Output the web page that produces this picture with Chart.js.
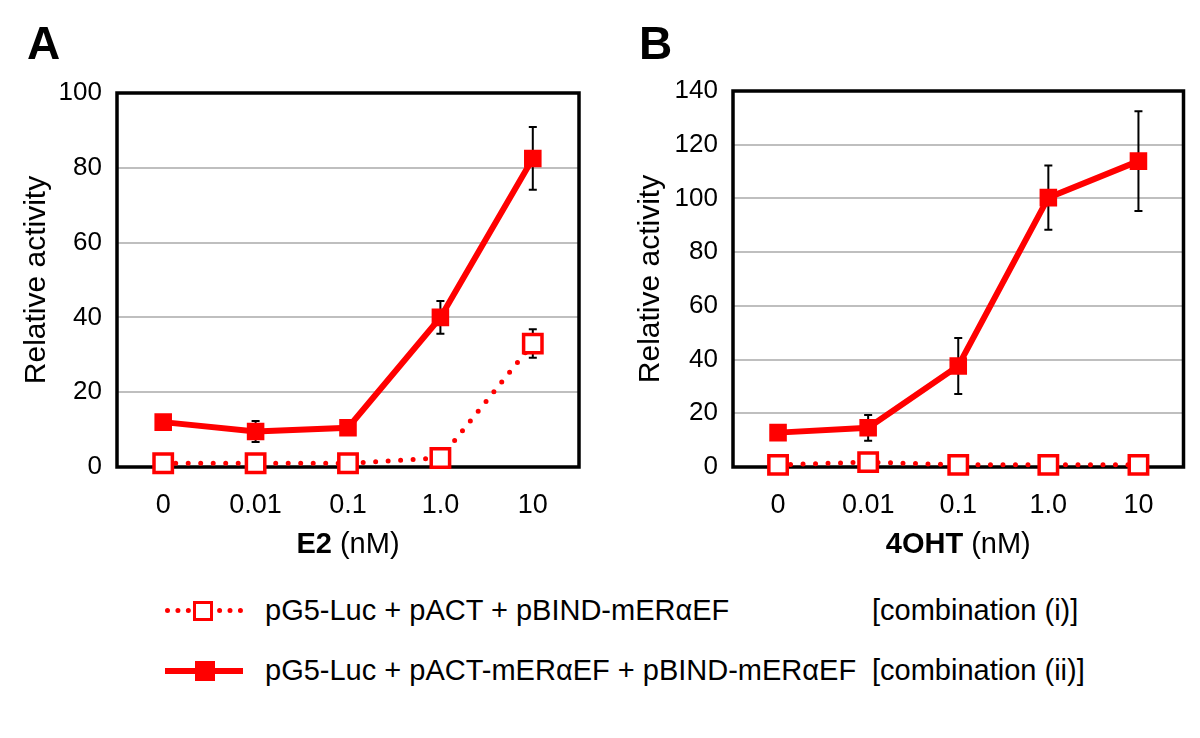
<!DOCTYPE html>
<html>
<head>
<meta charset="utf-8">
<script src="https://cdn.jsdelivr.net/npm/chart.js@4.4.1/dist/chart.umd.min.js"></script>
<style>
  body { margin: 0; background: #fff; }
  #wrap { position: relative; width: 1200px; height: 738px; background: #fff; font-family: 'Liberation Sans', Arial, sans-serif; }
  canvas { position: absolute; top: 0; }
  .panel { position: absolute; top: 16px; font-weight: bold; font-size: 46px; }
  .leg { position: absolute; font-size: 29px; line-height: 32px; white-space: nowrap; }
</style>
</head>
<body>
<div id="wrap">
  <canvas id="chartA" width="600" height="580" style="left:0"></canvas>
  <canvas id="chartB" width="600" height="580" style="left:600px"></canvas>
  <div class="panel" style="left:27px">A</div>
  <div class="panel" style="left:639px">B</div>
  <div id="legend"></div>
</div>
<script>
var doses = ['0', '0.01', '0.1', '1.0', '10'];

var seriesLabels = ['pG5-Luc + pACT + pBIND-mERαEF', 'pG5-Luc + pACT-mERαEF + pBIND-mERαEF'];
var seriesTags = ['[combination (i)]', '[combination (ii)]'];

// panel A: E2
var e2Comb1 = [1, 1, 1, 2.4, 33];
var e2Comb1Err = [0, 0, 0, 0, 3.8];
var e2Comb2 = [12, 9.5, 10.5, 40, 82.5];
var e2Comb2Err = [0, 2.8, 0, 4.4, 8.4];

// panel B: 4OHT
var ohtComb1 = [0.8, 1.8, 0.8, 0.8, 0.8];
var ohtComb1Err = [0, 0, 0, 0, 0];
var ohtComb2 = [12.8, 14.6, 37.6, 100.3, 113.9];
var ohtComb2Err = [0, 4.8, 10.4, 12, 18.6];

var red = '#ff0000';
Chart.defaults.font.family = "'Liberation Sans', Arial, sans-serif";
Chart.defaults.color = '#000';

var frameAndErrors = {
    id: 'frameAndErrors',
    beforeDatasetsDraw: function (chart) {
        var ctx = chart.ctx, a = chart.chartArea;
        ctx.save();
        ctx.lineWidth = 3.5;
        ctx.strokeStyle = '#000';
        ctx.strokeRect(a.left, a.top, a.right - a.left, a.bottom - a.top);
        var x = chart.scales.x, y = chart.scales.y;
        ctx.lineWidth = 2;
        chart.data.datasets.forEach(function (ds) {
            if (!ds.err) return;
            ds.data.forEach(function (v, i) {
                var e = ds.err[i];
                if (!e) return;
                var px = x.getPixelForValue(i);
                var top = y.getPixelForValue(v + e), bot = y.getPixelForValue(v - e);
                ctx.beginPath();
                ctx.moveTo(px, top); ctx.lineTo(px, bot);
                ctx.moveTo(px - 4, top); ctx.lineTo(px + 4, top);
                ctx.moveTo(px - 4, bot); ctx.lineTo(px + 4, bot);
                ctx.stroke();
            });
        });
        ctx.restore();
    },
    afterDraw: function (chart, args, opts) {
        var ctx = chart.ctx, a = chart.chartArea;
        ctx.save();
        ctx.textBaseline = 'middle';
        ctx.fillStyle = '#000';
        var bold = "bold 29px 'Liberation Sans', Arial, sans-serif";
        var norm = "29px 'Liberation Sans', Arial, sans-serif";
        ctx.font = bold;
        var w1 = ctx.measureText(opts.bold).width;
        ctx.font = norm;
        var w2 = ctx.measureText(opts.rest).width;
        var x0 = (a.left + a.right) / 2 - (w1 + w2) / 2;
        ctx.font = bold;
        ctx.fillText(opts.bold, x0, 545);
        ctx.font = norm;
        ctx.fillText(opts.rest, x0 + w1, 545);
        ctx.restore();
    }
};

function makePanel(id, comb1, comb1Err, comb2, comb2Err, ymax, yWidth, padTop, padRight, titlePad, xBold) {
    return new Chart(document.getElementById(id), {
        type: 'line',
        data: {
            labels: doses,
            datasets: [{
                label: seriesLabels[1],
                data: comb2,
                err: comb2Err,
                borderColor: red,
                backgroundColor: red,
                borderWidth: 6,
                pointStyle: 'rect',
                pointRadius: 11,
                pointBorderWidth: 2,
                pointBackgroundColor: red,
                clip: false
            }, {
                label: seriesLabels[0],
                data: comb1,
                err: comb1Err,
                borderColor: red,
                backgroundColor: '#fff',
                borderWidth: 5,
                borderDash: [0, 12.5],
                borderCapStyle: 'round',
                pointStyle: 'rect',
                pointRadius: 13,
                pointBorderWidth: 3.5,
                pointBackgroundColor: '#fff',
                clip: false
            }]
        },
        options: {
            responsive: false,
            animation: false,
            layout: { padding: { top: padTop, right: padRight, left: 0, bottom: 13 } },
            plugins: {
                legend: { display: false },
                tooltip: { enabled: false },
                frameAndErrors: { bold: xBold, rest: ' (nM)' }
            },
            scales: {
                x: {
                    offset: true,
                    grid: { display: false, drawTicks: false },
                    border: { display: false },
                    ticks: { font: { size: 27 }, padding: 22 },
                    afterFit: function (s) { s.height = 100; }
                },
                y: {
                    min: 0, max: ymax,
                    grid: { color: '#bfbfbf', lineWidth: 2, drawTicks: false },
                    border: { display: false },
                    ticks: { stepSize: 20, font: { size: 26 }, padding: 15 },
                    title: { display: true, text: 'Relative activity', font: { size: 30 }, padding: { top: titlePad, bottom: 0 } },
                    afterFit: function (s) { s.width = yWidth; }
                }
            }
        },
        plugins: [frameAndErrors]
    });
}

makePanel('chartA', e2Comb1, e2Comb1Err, e2Comb2, e2Comb2Err, 100, 117, 93, 21, 19, 'E2');
makePanel('chartB', ohtComb1, ohtComb1Err, ohtComb2, ohtComb2Err, 140, 133, 91, 4, 33, '4OHT');

// legend
var legend = document.getElementById('legend');
var rowsY = [611, 671];
[0, 1].forEach(function (i) {
    var y = rowsY[i];
    var line = document.createElement('div');
    line.style.cssText = 'position:absolute;left:165px;width:78px;top:' + (y - 3) + 'px;' +
        (i === 0 ? 'border-top:5px dotted ' + red + ';' : 'height:6px;background:' + red + ';');
    legend.appendChild(line);
    var sq = document.createElement('div');
    sq.style.cssText = 'position:absolute;box-sizing:border-box;left:' + (i === 0 ? 193 : 195) + 'px;top:' + (y - 10) + 'px;width:20px;height:20px;' +
        (i === 0 ? 'background:#fff;border:3.5px solid ' + red + ';' : 'background:' + red + ';');
    legend.appendChild(sq);
    var t = document.createElement('div');
    t.className = 'leg';
    t.style.left = '265px';
    t.style.top = (y - 17) + 'px';
    t.textContent = seriesLabels[i];
    legend.appendChild(t);
    var tag = document.createElement('div');
    tag.className = 'leg';
    tag.style.left = '872px';
    tag.style.top = (y - 17) + 'px';
    tag.textContent = seriesTags[i];
    legend.appendChild(tag);
});
</script>
</body>
</html>
